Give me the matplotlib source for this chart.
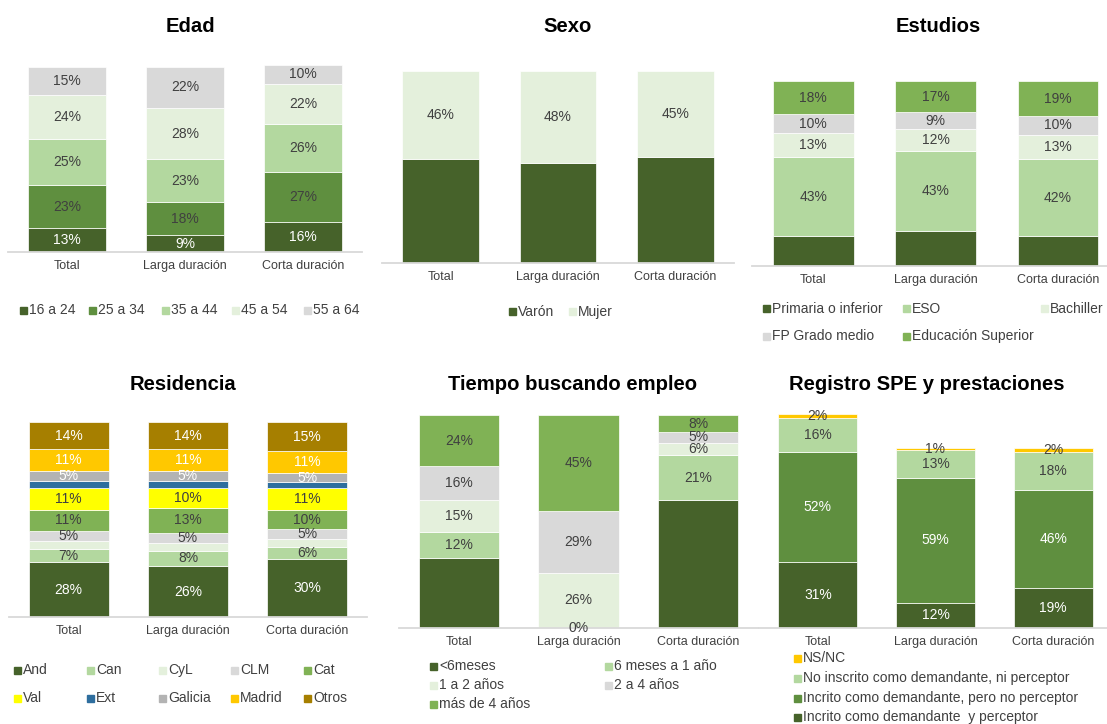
import matplotlib
matplotlib.use("Agg")
import matplotlib.pyplot as plt
from matplotlib.patches import Rectangle

plt.rcParams['font.family'] = ['Liberation Sans', 'DejaVu Sans']

W, H = 1107, 724
TXT = '#404040'

# ---------------- DATA ----------------
cats = ['Total', 'Larga duración', 'Corta duración']

# Edad
edad_labels = ['16 a 24', '25 a 34', '35 a 44', '45 a 54', '55 a 64']
edad_16_24 = [13, 9, 16]
edad_25_34 = [23, 18, 27]
edad_35_44 = [25, 23, 26]
edad_45_54 = [24, 28, 22]
edad_55_64 = [15, 22, 10]

# Sexo
sexo_labels = ['Varón', 'Mujer']
sexo_varon = [54, 52, 55]
sexo_mujer = [46, 48, 45]

# Estudios
est_labels = ['Primaria o inferior', 'ESO', 'Bachiller', 'FP Grado medio', 'Educación Superior']
est_primaria = [16, 19, 16]
est_eso = [43, 43, 42]
est_bach = [13, 12, 13]
est_fp = [10, 9, 10]
est_sup = [18, 17, 19]

# Residencia
res_labels = ['And', 'Can', 'CyL', 'CLM', 'Cat', 'Val', 'Ext', 'Galicia', 'Madrid', 'Otros']
res_and = [28, 26, 30]
res_can = [7, 8, 6]
res_cyl = [4, 4, 4]
res_clm = [5, 5, 5]
res_cat = [11, 13, 10]
res_val = [11, 10, 11]
res_ext = [4, 4, 3]
res_gal = [5, 5, 5]
res_mad = [11, 11, 11]
res_otr = [14, 14, 15]

# Tiempo buscando empleo
tie_labels = ['<6meses', '6 meses a 1 año', '1 a 2 años', '2 a 4 años', 'más de 4 años']
tie_menos6 = [33, 0, 60]
tie_6m_1a = [12, 0, 21]
tie_1_2 = [15, 26, 6]
tie_2_4 = [16, 29, 5]
tie_mas4 = [24, 45, 8]

# Registro SPE y prestaciones
spe_labels = ['Incrito como demandante  y perceptor',
              'Incrito como demandante, pero no perceptor',
              'No inscrito como demandante, ni perceptor',
              'NS/NC']
spe_perceptor = [31, 12, 19]
spe_no_perceptor = [52, 59, 46]
spe_no_inscrito = [16, 13, 18]
spe_nsnc = [2, 1, 2]

# ---------------- COLOURS ----------------
DG = '#46622a'   # dark green
MG = '#5f8f3f'   # medium green
BG = '#80b255'   # bright green
LG = '#b3d89f'   # light green
VL = '#e4f0dc'   # very light green
GR = '#d9d9d9'   # light grey
G2 = '#b3b3b3'   # mid grey
BL = '#2e6e9e'   # blue
YE = '#ffff00'   # yellow
GO = '#ffc800'   # gold
OT = '#a67f00'   # dark gold
WH = 'white'

fig = plt.figure(figsize=(W / 100, H / 100), dpi=100)


def make_ax(left, right, top, bottom, xmax=2.5, ymax=100):
    ax = fig.add_axes([left / W, 1 - bottom / H, (right - left) / W, (bottom - top) / H])
    ax.set_xlim(-0.5, xmax)
    ax.set_ylim(0, ymax)
    for s in ['top', 'left', 'right']:
        ax.spines[s].set_visible(False)
    ax.spines['bottom'].set_color('#d9d9d9')
    ax.spines['bottom'].set_linewidth(1.3)
    ax.set_yticks([])
    ax.set_xticks(range(len(cats)))
    ax.set_xticklabels(cats, fontsize=9, color=TXT)
    ax.tick_params(axis='x', length=0, pad=6)
    ax.set_facecolor('none')
    return ax


def stacked(ax, series, colors, lab_colors, show=None, width=0.66):
    bottom = [0] * len(cats)
    for i, (vals, col, lc) in enumerate(zip(series, colors, lab_colors)):
        bars = ax.bar(range(len(cats)), vals, width=width, bottom=bottom,
                      color=col, edgecolor='white', linewidth=0.5)
        for j, b in enumerate(bars):
            vis = True if show is None else show[i][j]
            if lc is not None and vis:
                ax.text(b.get_x() + b.get_width() / 2, bottom[j] + vals[j] / 2,
                        f'{vals[j]}%', ha='center', va='center',
                        fontsize=10, color=lc)
        bottom = [a + b for a, b in zip(bottom, vals)]


def legend_item(x, y, color, label):
    s = 7
    fig.patches.append(Rectangle((x / W, 1 - (y + s / 2) / H), s / W, s / H,
                                 transform=fig.transFigure, color=color,
                                 figure=fig))
    fig.text((x + 9) / W, 1 - y / H, label, fontsize=10, color=TXT,
             ha='left', va='center')


def title(x, y, t):
    fig.text(x / W, 1 - y / H, t, fontsize=14.6, fontweight='bold',
             ha='center', va='center', color='black')


# ---------------- EDAD ----------------
ax = make_ax(8, 362, 65, 252, ymax=101)
stacked(ax, [edad_16_24, edad_25_34, edad_35_44, edad_45_54, edad_55_64],
        [DG, MG, LG, VL, GR], [WH, TXT, TXT, TXT, TXT])
title(190, 27, 'Edad')
for xm, c, l in zip([20, 89, 162, 232, 304], [DG, MG, LG, VL, GR], edad_labels):
    legend_item(xm, 310, c, l)

# ---------------- SEXO ----------------
ax = make_ax(382, 734, 71, 263)
stacked(ax, [sexo_varon, sexo_mujer], [DG, VL], [None, TXT], width=0.655)
title(568, 27, 'Sexo')
for xm, c, l in zip([509, 569], [DG, VL], sexo_labels):
    legend_item(xm, 312, c, l)

# ---------------- ESTUDIOS ----------------
ax = make_ax(752, 1107, 81, 266, xmax=(1107 - 813) / 122.5)
est_cols = [DG, LG, VL, GR, BG]
stacked(ax, [est_primaria, est_eso, est_bach, est_fp, est_sup], est_cols,
        [None, TXT, TXT, TXT, TXT])
title(938, 27, 'Estudios')
est_pos = [(763, 309), (903, 309), (1041, 309), (763, 336), (903, 336)]
for (xm, ym), c, l in zip(est_pos, est_cols, est_labels):
    legend_item(xm, ym, c, l)

# ---------------- RESIDENCIA ----------------
ax = make_ax(9, 367, 422, 617)
res_cols = [DG, LG, VL, GR, BG, YE, BL, G2, GO, OT]
stacked(ax, [res_and, res_can, res_cyl, res_clm, res_cat, res_val, res_ext,
             res_gal, res_mad, res_otr], res_cols,
        [WH, TXT, None, TXT, TXT, TXT, None, WH, WH, WH], width=0.67)
title(183, 385, 'Residencia')
res_x = [14, 87, 159, 231, 304]
for k, (c, l) in enumerate(zip(res_cols, res_labels)):
    legend_item(res_x[k % 5], 670 if k < 5 else 698, c, l)

# ---------------- TIEMPO ----------------
ax = make_ax(399, 758, 415, 628)
tie_cols = [DG, LG, VL, GR, BG]
tie_show = [[False, True, False], [True, False, True], [True] * 3, [True] * 3, [True] * 3]
stacked(ax, [tie_menos6, tie_6m_1a, tie_1_2, tie_2_4, tie_mas4], tie_cols,
        [TXT] * 5, show=tie_show, width=0.67)
title(573, 385, 'Tiempo buscando empleo')
tie_pos = [(430, 666), (605, 666), (430, 685), (605, 685), (430, 704)]
for (xm, ym), c, l in zip(tie_pos, tie_cols, tie_labels):
    legend_item(xm, ym, c, l)

# ---------------- SPE ----------------
ax = make_ax(759, 1107, 414, 628, xmax=(1107 - 817.5) / 117.8, ymax=101)
spe_cols = [DG, MG, LG, GO]
stacked(ax, [spe_perceptor, spe_no_perceptor, spe_no_inscrito, spe_nsnc], spe_cols,
        [WH, WH, TXT, TXT], width=0.67)
title(927, 385, 'Registro SPE y prestaciones')
for ym, c, l in zip([717, 698, 678, 658], spe_cols, spe_labels):
    legend_item(794, ym, c, l)

fig.savefig('out.png', dpi=100, facecolor='white')
